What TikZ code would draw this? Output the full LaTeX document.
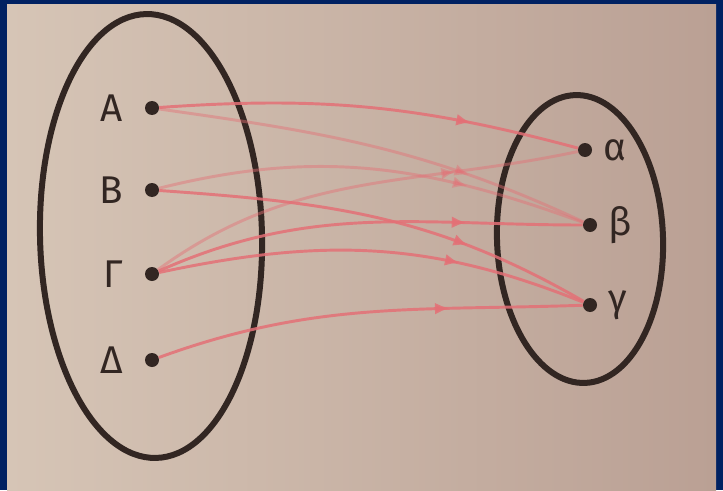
\documentclass[tikz,border=0pt]{standalone}
\usepackage{fontspec}
\newfontfamily\labelfont{Fira Sans}
\usetikzlibrary{arrows.meta, positioning, decorations.markings}
\definecolor{frame}{RGB}{0,33,98}
\definecolor{paperl}{RGB}{214,197,182}
\definecolor{paperr}{RGB}{186,160,148}
\definecolor{ink}{RGB}{50,38,34}
\definecolor{pencil}{RGB}{228,112,118}

\begin{document}
\begin{tikzpicture}[
    x=0.75pt, y=0.75pt,
    >=Stealth,
    dot/.style={circle, fill=ink, inner sep=0pt, minimum size=10.5pt},
    letter/.style={text=ink, font=\labelfont\fontsize{29}{29}\selectfont, inner sep=0pt},
    set line/.style={draw=ink, line width=4.5pt},
    map edge/.style={draw=pencil, line width=2.2pt, opacity=0.85, postaction={decorate},
        decoration={markings, mark=at position #1 with {\arrow{Latex[length=11pt,width=9pt]}}}},
    map edge/.default=0.72,
    faint/.style={opacity=0.45}
]
    \useasboundingbox (0,0) rectangle (723,490);

    % ==================== PAPER ====================
    \fill[frame] (0,0) rectangle (723,490);
    \shade[left color=paperl, right color=paperr] (7,0) rectangle (716,485);

    % ==================== SETS ====================
    \draw[set line, rotate around={1.3:(151,254)}] (151,254) ellipse [x radius=111, y radius=222];
    \draw[set line, rotate around={2:(580,251)}] (580,251) ellipse [x radius=83, y radius=144];

    % ==================== LEFT SET ====================
    % Points
    \node[dot] (a) at (152,382) {};
    \node[dot] (b) at (152,300) {};
    \node[dot] (g) at (152,216) {};
    \node[dot] (d) at (152,130) {};

    % Point Labels
    \node[letter, left=16pt of a] {Α};
    \node[letter, left=16pt of b] {Β};
    \node[letter, left=16pt of g] {Γ};
    \node[letter, left=16pt of d] {Δ};

    % ==================== RIGHT SET ====================
    % Points
    \node[dot] (al) at (585,340) {};
    \node[dot] (be) at (590,265) {};
    \node[dot] (ga) at (590,185) {};

    % Point Labels
    \node[letter, right=8pt of al] {α};
    \node[letter, right=8pt of be] {β};
    \node[letter, right=8pt of ga] {γ};

    % ==================== ARROWS ====================
    % From A
    \draw[map edge=0.74] (a) to[out=4, in=165] (al);
    \draw[map edge, faint] (a) to[out=-8, in=155] (be);
    % From B
    \draw[map edge, faint] (b) to[out=14, in=160] (be);
    \draw[map edge=0.71] (b) to[out=-4, in=150] (ga);
    % From Gamma
    \draw[map edge, faint] (g) to[out=36, in=192] (al);
    \draw[map edge=0.73] (g) to[out=24, in=180] (be);
    \draw[map edge=0.70] (g) to[out=12, in=158] (ga);
    % From Delta
    \draw[map edge=0.69] (d) to[out=20, in=182] (ga);
\end{tikzpicture}
\end{document}
